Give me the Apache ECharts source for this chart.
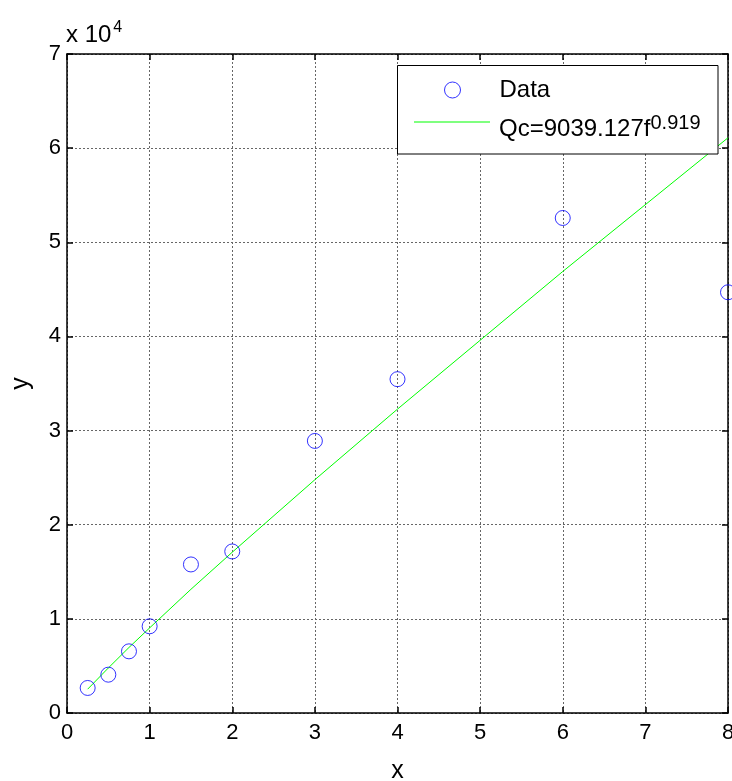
<!DOCTYPE html>
<html><head><meta charset="utf-8">
<script src="https://cdn.jsdelivr.net/npm/echarts@6/dist/echarts.min.js"></script>
<style>html,body{margin:0;padding:0;background:#fff}#c{width:732px;height:781px}</style>
</head><body><div id="c"></div>
<script>
const xData = [0.25, 0.5, 0.75, 1, 1.5, 2, 3, 4, 6, 8];
const yData = [2660, 4070, 6550, 9210, 15780, 17160, 28900, 35460, 52580, 44690];
const fitX = [0.25, 0.5, 0.75, 1, 1.5, 2, 3, 4, 6, 8];
const fitY = [2530, 4780, 6960, 9040, 13140, 17080, 24780, 32280, 46900, 61100];
const xTicks = [0, 1, 2, 3, 4, 5, 6, 7, 8];
const yTicks = [0, 1, 2, 3, 4, 5, 6, 7];
const seriesNames = ['Data', 'Qc=9039.127f^0.919'];

const FONT = "'Liberation Sans', Arial, sans-serif";
const chart = echarts.init(document.getElementById('c'));
const axisCommon = {
  axisLine: {show: true, onZero: false, lineStyle: {color: '#000', width: 1.5}},
  axisTick: {show: true, inside: true, length: 6, lineStyle: {color: '#000', width: 1.5}},
  splitLine: {show: false}
};
chart.setOption({
  animation: false,
  backgroundColor: '#fff',
  textStyle: {fontFamily: FONT},
  grid: {left: 67, right: 4, top: 54, bottom: 68, containLabel: false, outerBoundsMode: 'none'},
  title: {
    text: '{a|x 10}{b|4}', left: 61, top: 15,
    textStyle: {fontWeight: 'normal', rich: {
      a: {fontSize: 24, fontFamily: FONT, color: '#000', fontWeight: 'normal'},
      b: {fontSize: 16, fontFamily: FONT, color: '#000', fontWeight: 'normal', padding: [0, 0, 14, 2]}
    }}
  },
  xAxis: [
    Object.assign({}, axisCommon, {
      type: 'value', min: xTicks[0], max: xTicks[xTicks.length - 1], interval: 1, position: 'bottom',
      name: 'x', nameLocation: 'middle', nameGap: 46,
      nameTextStyle: {fontSize: 25, color: '#000', fontFamily: FONT},
      axisLabel: {fontSize: 22, color: '#000', margin: 9, fontFamily: FONT},
      splitLine: {show: true, lineStyle: {color: '#666', type: [2, 2], width: 1}}
    }),
    Object.assign({}, axisCommon, {
      type: 'value', min: xTicks[0], max: xTicks[xTicks.length - 1], interval: 1, position: 'top',
      axisLabel: {show: false}
    })
  ],
  yAxis: [
    Object.assign({}, axisCommon, {
      type: 'value', min: yTicks[0] * 10000, max: yTicks[yTicks.length - 1] * 10000, interval: 10000, position: 'left',
      name: 'y', nameLocation: 'middle', nameGap: 33, nameRotate: 90,
      nameTextStyle: {fontSize: 25, color: '#000', fontFamily: FONT},
      axisLabel: {fontSize: 22, color: '#000', margin: 6, fontFamily: FONT, formatter: v => String(v / 10000)},
      splitLine: {show: true, lineStyle: {color: '#666', type: [2, 2], width: 1}}
    }),
    Object.assign({}, axisCommon, {
      type: 'value', min: yTicks[0] * 10000, max: yTicks[yTicks.length - 1] * 10000, interval: 10000, position: 'right',
      axisLabel: {show: false}
    })
  ],
  legend: [
    {
      data: [{name: seriesNames[0], icon: 'circle', itemStyle: {color: 'rgba(0,0,0,0)', borderColor: '#0000ff', borderWidth: 1}}],
      left: 444, top: 78, padding: 0,
      itemWidth: 16, itemHeight: 16, selectedMode: false, z: 10,
      textStyle: {fontSize: 24, color: '#000', fontFamily: FONT, padding: [5, 0, 0, 34]}
    },
    {
      data: [{name: seriesNames[1], icon: 'rect', itemStyle: {color: '#00ff00'}}],
      left: 414, top: 113, padding: 0,
      itemWidth: 76, itemHeight: 1, selectedMode: false, z: 10,
      formatter: () => '{a|Qc=9039.127f}{b|0.919}',
      textStyle: {color: '#000', fontFamily: FONT, padding: [14, 0, 0, 4], rich: {
        a: {fontSize: 24, fontFamily: FONT, color: '#000'},
        b: {fontSize: 20, fontFamily: FONT, color: '#000', padding: [0, 0, 12, 0]}
      }}
    }
  ],
  graphic: [{
    type: 'rect', z: 5, shape: {x: 397.5, y: 65.5, width: 320.5, height: 88.5},
    style: {fill: '#fff', stroke: '#000', lineWidth: 1}
  }],
  series: [
    {
      name: seriesNames[0], type: 'scatter', symbol: 'circle', symbolSize: 15,
      itemStyle: {color: 'rgba(0,0,0,0)', borderColor: '#0000ff', borderWidth: 1},
      data: xData.map((x, i) => [x, yData[i]]), z: 3, clip: false
    },
    {
      name: seriesNames[1], type: 'line', symbol: 'none', showSymbol: false,
      lineStyle: {color: '#00ff00', width: 1}, itemStyle: {color: '#00ff00'},
      data: fitX.map((x, i) => [x, fitY[i]]), z: 2
    }
  ]
});
</script></body></html>
